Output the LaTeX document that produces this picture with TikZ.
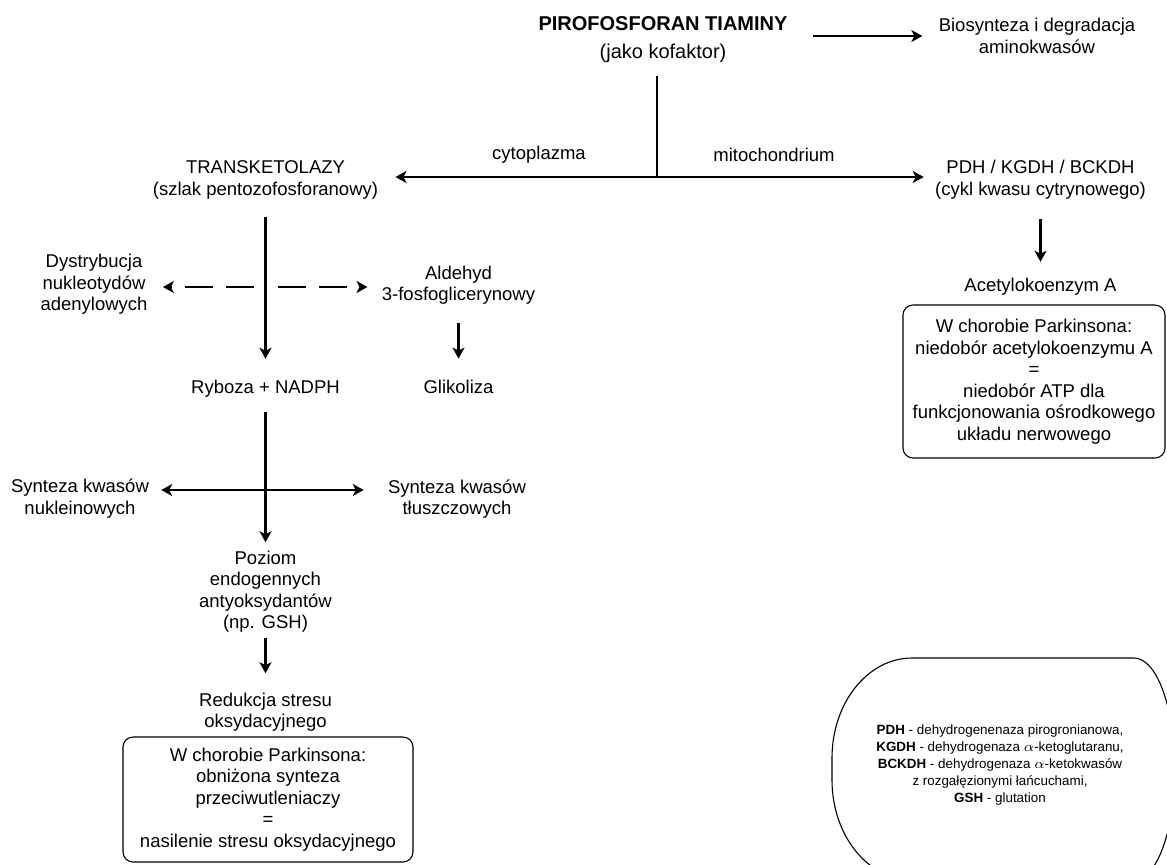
\documentclass[tikz,border=0pt]{standalone}
\usepackage{fontspec}
\setmainfont{Liberation Sans}
\usetikzlibrary{arrows.meta}
\newcommand{\fmain}{\fontsize{9.25}{10.75}\selectfont}
\newcommand{\fhead}{\fontsize{10}{13.6}\selectfont}
\newcommand{\fnote}{\fontsize{6.7}{8.45}\selectfont}

\begin{document}
\begin{tikzpicture}[x=0.5pt,y=-0.5pt,
  txt/.style={align=center,inner sep=0pt,font=\fmain},
  pbox/.style={draw,line width=0.55pt,rounded corners=5pt,align=center,inner sep=0pt,font=\fmain},
  arr/.style={-{Stealth[length=5.5pt,width=6pt,inset=1.5pt]},line width=1.1pt},
  darr/.style={arr,dash pattern=on 14pt off 6.5pt,dash phase=14.5pt}]
\useasboundingbox (0,0) rectangle (1167,864);
% top level
\node[txt,font=\fhead] (tpp) at (663,39.5) {\textbf{PIROFOSFORAN TIAMINY}\\(jako kofaktor)};
\node[txt] (bio) at (1037,36) {Biosynteza i degradacja\\aminokwasów};
\coordinate (split) at (657,177);
\node[txt] (cyto) at (539,155) {cytoplazma};
\node[txt] (mito) at (774,155) {mitochondrium};
\node[txt] (transk) at (265.5,180) {TRANSKETOLAZY\\(szlak pentozofosforanowy)};
\node[txt] (pdh) at (1040.5,179.7) {PDH / KGDH / BCKDH\\(cykl kwasu cytrynowego)};
% pentose phosphate branch
\node[txt] (dystr) at (94,284.5) {Dystrybucja\\nukleotydów\\adenylowych};
\node[txt] (ald) at (458.5,285) {Aldehyd\\3-fosfoglicerynowy};
\coordinate (dsplit) at (265.5,287);
\node[txt] (ryb) at (265.5,388.8) {Ryboza + NADPH};
\node[txt] (gli) at (458.5,386.8) {Glikoliza};
\node[txt] (synN) at (80,498.5) {Synteza kwasów\\nukleinowych};
\node[txt] (synT) at (457,499) {Synteza kwasów\\tłuszczowych};
\coordinate (hsplit) at (265.5,490);
\node[txt] (poz) at (265.5,591.5) {Poziom\\endogennych\\antyoksydantów\\(np. GSH)};
\node[txt] (red) at (265.5,712) {Redukcja stresu\\oksydacyjnego};
\node[pbox,minimum width=145pt,minimum height=62.5pt] (pdbox2) at (268,799.5) {W chorobie Parkinsona:\\obniżona synteza\\przeciwutleniaczy\\=\\nasilenie stresu oksydacyjnego};
% mitochondrial branch
\node[txt] (acet) at (1040.5,286.8) {Acetylokoenzym A};
\node[pbox,minimum width=131pt,minimum height=76.5pt] (pdbox1) at (1034,381.5) {W chorobie Parkinsona:\\niedobór acetylokoenzymu A\\=\\niedobór ATP dla\\funkcjonowania ośrodkowego\\układu nerwowego};
% legend
\node[txt,font=\fnote] (legend) at (1000,765) {\textbf{PDH} - dehydrogenenaza pirogronianowa,\\\textbf{KGDH} - dehydrogenaza $\alpha$-ketoglutaranu,\\\textbf{BCKDH} - dehydrogenaza $\alpha$-ketokwasów\\z rozgałęzionymi łańcuchami,\\\textbf{GSH} - glutation};
\draw[line width=0.55pt] (912,658) arc[start angle=270,end angle=180,x radius=80,y radius=100] -- (832,780)
  arc[start angle=180,end angle=90,x radius=80,y radius=100] -- (1134,880)
  arc[start angle=90,end angle=0,x radius=40,y radius=105] -- (1174,763)
  arc[start angle=0,end angle=-90,x radius=40,y radius=105] -- cycle;
% connectors
\draw[arr,shorten <=12.5pt,shorten >=8pt] (bio.west -| tpp.east) -- (bio.west);
\draw[line width=1.1pt,shorten <=6.5pt] (tpp.south -| split) -- (split);
\draw[arr,shorten >=8.5pt] (split) -- (split -| transk.east);
\draw[arr,shorten >=5.5pt] (split) -- (split -| pdh.west);
\draw[arr,shorten <=8.6pt,shorten >=10.5pt] (transk) -- (ryb);
\draw[darr,shorten >=7.5pt] (dsplit) -- (dsplit -| dystr.east);
\draw[darr,shorten >=7pt] (dsplit) -- (dsplit -| ald.west);
\draw[arr,shorten <=9pt,shorten >=10.5pt] (ald) -- (gli);
\draw[arr,shorten <=7.25pt,shorten >=4pt] (ryb) -- (poz);
\draw[arr,{Stealth[length=5.5pt,width=6pt,inset=1.5pt]}-{Stealth[length=5.5pt,width=6pt,inset=1.5pt]},shorten <=6pt,shorten >=12pt] (hsplit -| synN.east) -- (hsplit -| synT.west);
\draw[arr,shorten <=2.5pt,shorten >=9.5pt] (poz) -- (red);
\draw[arr,shorten <=10pt,shorten >=8pt] (pdh) -- (acet);
\end{tikzpicture}
\end{document}
